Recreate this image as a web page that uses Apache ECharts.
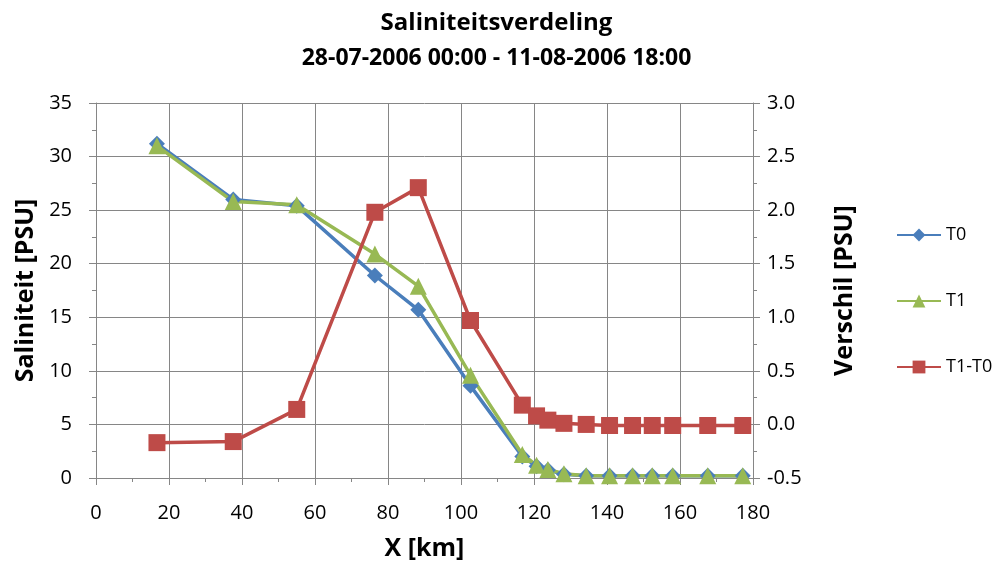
<!DOCTYPE html>
<html>
<head>
<meta charset="utf-8">
<script src="https://cdn.jsdelivr.net/npm/echarts@6/dist/echarts.min.js"></script>
<style>
html,body{margin:0;padding:0;background:#fff;}
#chart{width:993px;height:567px;}
</style>
</head>
<body>
<div id="chart"></div>
<script>
// Data
var xKm  = [16.7, 37.6, 55.0, 76.4, 88.3, 102.6, 116.8, 120.7, 123.8, 128.2, 134.3, 140.7, 147.0, 152.4, 158.0, 167.6, 177.2];
var t0   = [31.2, 26.0, 25.4, 18.9, 15.7, 8.6, 2.0, 1.1, 0.75, 0.35, 0.22, 0.22, 0.22, 0.22, 0.22, 0.22, 0.22];
var t1   = [31.0, 25.8, 25.5, 20.9, 17.9, 9.6, 2.2, 1.2, 0.8, 0.4, 0.2, 0.2, 0.2, 0.2, 0.2, 0.2, 0.2];
var diff = [-0.17, -0.16, 0.14, 1.98, 2.21, 0.97, 0.18, 0.08, 0.04, 0.01, 0.0, -0.01, -0.01, -0.01, -0.01, -0.01, -0.01];
var seriesNames = ['T0', 'T1', 'T1-T0'];
var titleText = 'Saliniteitsverdeling';
var subtitleText = '28-07-2006 00:00 - 11-08-2006 18:00';

function pairs(xs, ys) { return xs.map(function (x, i) { return [x, ys[i]]; }); }

var FONT = '"Open Sans", "Noto Sans", sans-serif';
var axisGray = '#868686';

var chart = echarts.init(document.getElementById('chart'), null, {renderer: 'canvas'});
chart.setOption({
  animation: false,
  backgroundColor: '#ffffff',
  title: [
    {text: titleText, left: 'center', top: 6,
     textStyle: {fontFamily: FONT, fontSize: 24, fontWeight: 'bold', color: '#000'}},
    {text: subtitleText, left: 'center', top: 42,
     textStyle: {fontFamily: FONT, fontSize: 23, fontWeight: 'bold', color: '#000'}}
  ],
  legend: {
    orient: 'vertical', left: 891, top: 221, itemGap: 48,
    itemWidth: 44, itemHeight: 16,
    textStyle: {fontFamily: FONT, fontSize: 18, color: '#000'},
    data: seriesNames
  },
  grid: {left: 96, right: 240, top: 103, bottom: 89, containLabel: false},
  xAxis: {
    type: 'value', min: 0, max: 180, interval: 20,
    name: 'X [km]', nameLocation: 'middle', nameGap: 58,
    nameTextStyle: {fontFamily: FONT, fontSize: 25, fontWeight: 'bold', color: '#000'},
    axisLine: {show: true, onZero: false, lineStyle: {color: axisGray, width: 1}},
    axisTick: {show: true, inside: false, length: 7, lineStyle: {color: axisGray}},
    minorTick: {show: true, splitNumber: 2, length: 4, lineStyle: {color: axisGray}},
    axisLabel: {fontFamily: FONT, fontSize: 20, color: '#000', margin: 25},
    splitLine: {show: true, lineStyle: {color: axisGray, width: 1}}
  },
  yAxis: [
    {
      type: 'value', min: 0, max: 35, interval: 5, position: 'left',
      name: 'Saliniteit [PSU]', nameLocation: 'middle', nameGap: 54, nameRotate: 90,
      nameTextStyle: {fontFamily: FONT, fontSize: 25, fontWeight: 'bold', color: '#000'},
      axisLine: {show: true, lineStyle: {color: axisGray, width: 1}},
      axisTick: {show: true, inside: false, length: 7, lineStyle: {color: axisGray}},
      minorTick: {show: true, splitNumber: 2, length: 4, lineStyle: {color: axisGray}},
      axisLabel: {fontFamily: FONT, fontSize: 20, color: '#000', margin: 24},
      splitLine: {show: true, lineStyle: {color: axisGray, width: 1}}
    },
    {
      type: 'value', min: -0.5, max: 3.0, interval: 0.5, position: 'right',
      name: 'Verschil [PSU]', nameLocation: 'middle', nameGap: 79, nameRotate: 90,
      nameTextStyle: {fontFamily: FONT, fontSize: 25, fontWeight: 'bold', color: '#000'},
      axisLine: {show: true, lineStyle: {color: axisGray, width: 1}},
      axisTick: {show: true, inside: false, length: 7, lineStyle: {color: axisGray}},
      minorTick: {show: true, splitNumber: 2, length: 4, lineStyle: {color: axisGray}},
      axisLabel: {fontFamily: FONT, fontSize: 20, color: '#000', margin: 14,
                  formatter: function (v) { return v.toFixed(1); }},
      splitLine: {show: false}
    }
  ],
  series: [
    {
      name: seriesNames[0], type: 'line', yAxisIndex: 0, data: pairs(xKm, t0),
      symbol: 'diamond', symbolSize: 16, showAllSymbol: true,
      lineStyle: {color: '#4A7EBB', width: 3.5},
      itemStyle: {color: '#4A7EBB'}
    },
    {
      name: seriesNames[1], type: 'line', yAxisIndex: 0, data: pairs(xKm, t1),
      symbol: 'triangle', symbolSize: 17, showAllSymbol: true,
      lineStyle: {color: '#98B954', width: 3.5},
      itemStyle: {color: '#98B954'}
    },
    {
      name: seriesNames[2], type: 'line', yAxisIndex: 1, data: pairs(xKm, diff),
      symbol: 'rect', symbolSize: 17, showAllSymbol: true,
      lineStyle: {color: '#BE4B48', width: 3.5},
      itemStyle: {color: '#BE4B48'}
    }
  ]
});
</script>
</body>
</html>
